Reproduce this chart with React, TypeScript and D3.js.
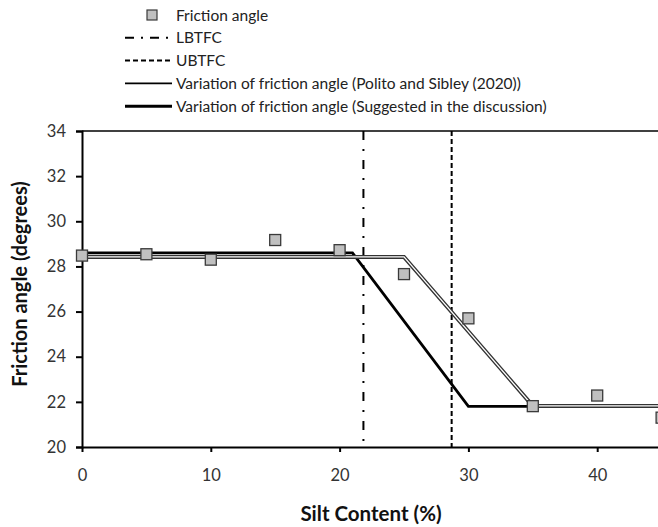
import React, { useEffect, useRef } from "react";
import * as d3 from "d3";

// measured friction angle vs silt content
const siltContent = [0, 5, 10, 15, 20, 25, 30, 35, 40, 45];
const frictionAngle = [28.48, 28.54, 28.3, 29.17, 28.72, 27.66, 25.7, 21.81, 22.28, 21.3];

// trend lines (x, y breakpoints)
const politoX = [0, 25, 35, 50];
const politoY = [28.42, 28.42, 21.82, 21.82];
const suggestedX = [0, 21, 30, 50];
const suggestedY = [28.6, 28.6, 21.8, 21.8];

// threshold fines contents
const lbtfc = 21.85;
const ubtfc = 28.7;

const xTicks = [0, 10, 20, 30, 40];
const yTicks = [20, 22, 24, 26, 28, 30, 32, 34];

const legendLabels = [
  "Friction angle",
  "LBTFC",
  "UBTFC",
  "Variation of friction angle (Polito and Sibley (2020))",
  "Variation of friction angle (Suggested in the discussion)",
];

const FONT = "Lato, 'Open Sans', sans-serif";

const App: React.FC = () => {
  const ref = useRef<SVGSVGElement | null>(null);

  useEffect(() => {
    if (!ref.current) return;
    const svg = d3.select(ref.current);
    svg.selectAll("*").remove();

    const width = 658;
    const height = 527;
    const margin = { top: 131, left: 82, bottom: 80 };
    const plotH = height - margin.top - margin.bottom;

    const x = d3.scaleLinear().domain([0, 50]).range([margin.left, margin.left + 644]);
    const y = d3.scaleLinear().domain([20, 34]).range([margin.top + plotH, margin.top]);

    svg.attr("width", width).attr("height", height);

    // top border of plot area
    svg.append("line")
      .attr("x1", x(0)).attr("x2", width)
      .attr("y1", y(34)).attr("y2", y(34))
      .attr("stroke", "#000").attr("stroke-width", 1.5);

    // Y axis
    const yAxis = svg.append("g")
      .attr("transform", `translate(${x(0)},0)`)
      .call(d3.axisLeft(y).tickValues(yTicks).tickSize(6).tickPadding(10).tickFormat(d3.format("d")));
    yAxis.select(".domain").attr("stroke", "#000").attr("stroke-width", 2);
    yAxis.selectAll(".tick line").attr("stroke", "#000").attr("stroke-width", 2);
    yAxis.selectAll(".tick text")
      .attr("font-family", FONT).attr("font-size", 16.5).attr("fill", "#333");

    // X axis
    const xAxis = svg.append("g")
      .attr("transform", `translate(0,${y(20)})`)
      .call(d3.axisBottom(x).tickValues(xTicks).tickSize(5).tickPadding(17).tickSizeOuter(0));
    xAxis.select(".domain").attr("stroke", "#000").attr("stroke-width", 2);
    xAxis.selectAll(".tick line").attr("stroke", "#000").attr("stroke-width", 2);
    xAxis.selectAll(".tick text")
      .attr("font-family", FONT).attr("font-size", 16.5).attr("fill", "#333");

    // threshold lines
    svg.append("line")
      .attr("x1", x(lbtfc)).attr("x2", x(lbtfc))
      .attr("y1", y(34)).attr("y2", y(20))
      .attr("stroke", "#000").attr("stroke-width", 2)
      .attr("stroke-dasharray", "9,9,2,9");
    svg.append("line")
      .attr("x1", x(ubtfc)).attr("x2", x(ubtfc))
      .attr("y1", y(34)).attr("y2", y(20))
      .attr("stroke", "#000").attr("stroke-width", 2)
      .attr("stroke-dasharray", "5,3");

    const line = d3.line<[number, number]>()
      .x((d) => x(d[0]))
      .y((d) => y(d[1]));

    const politoPts = politoX.map((v, i) => [v, politoY[i]] as [number, number]);
    const suggestedPts = suggestedX.map((v, i) => [v, suggestedY[i]] as [number, number]);

    // suggested line (thick black)
    svg.append("path")
      .datum(suggestedPts)
      .attr("fill", "none").attr("stroke", "#000").attr("stroke-width", 2.8)
      .attr("d", line);

    // Polito and Sibley line (double line)
    svg.append("path")
      .datum(politoPts)
      .attr("fill", "none").attr("stroke", "#333").attr("stroke-width", 4)
      .attr("d", line);
    svg.append("path")
      .datum(politoPts)
      .attr("fill", "none").attr("stroke", "#fff").attr("stroke-width", 1.3)
      .attr("d", line);

    // data points
    svg.selectAll(".pt")
      .data(siltContent)
      .join("rect")
      .attr("class", "pt")
      .attr("x", (d) => x(d) - 5.5)
      .attr("y", (d, i) => y(frictionAngle[i]) - 5.5)
      .attr("width", 11).attr("height", 11)
      .attr("fill", "#c0c0c0").attr("stroke", "#3a3a3a").attr("stroke-width", 1.3);

    // axis titles
    svg.append("text")
      .attr("x", 371).attr("y", 521)
      .attr("text-anchor", "middle")
      .attr("font-family", FONT).attr("font-size", 20.5).attr("font-weight", "bold")
      .attr("fill", "#111")
      .text("Silt Content (%)");
    svg.append("text")
      .attr("transform", `translate(27,284) rotate(-90)`)
      .attr("text-anchor", "middle")
      .attr("font-family", FONT).attr("font-size", 20).attr("font-weight", "bold")
      .attr("fill", "#111")
      .text("Friction angle (degrees)");

    // legend
    const legend = svg.append("g").attr("transform", "translate(125,15)");
    legendLabels.forEach((label, i) => {
      const row = legend.append("g").attr("transform", `translate(0,${i * 22.8})`);
      if (i === 0) {
        row.append("rect")
          .attr("x", 22).attr("y", -5).attr("width", 10).attr("height", 10)
          .attr("fill", "#c0c0c0").attr("stroke", "#3a3a3a").attr("stroke-width", 1.2);
      } else if (i === 1) {
        row.append("line").attr("x1", 0).attr("x2", 47).attr("y1", 0).attr("y2", 0)
          .attr("stroke", "#000").attr("stroke-width", 2).attr("stroke-dasharray", "9,7,2,7");
      } else if (i === 2) {
        row.append("line").attr("x1", 0).attr("x2", 47).attr("y1", 0).attr("y2", 0)
          .attr("stroke", "#000").attr("stroke-width", 2).attr("stroke-dasharray", "5,3");
      } else {
        row.append("line").attr("x1", 0).attr("x2", 47).attr("y1", 0).attr("y2", 0)
          .attr("stroke", "#000").attr("stroke-width", i === 3 ? 1.8 : 3);
      }
      row.append("text")
        .attr("x", 51).attr("y", 5.5)
        .attr("font-family", FONT).attr("font-size", 15.5).attr("fill", "#222")
        .text(label);
    });
  }, []);

  return <svg ref={ref} style={{ position: "absolute", left: 0, top: 0 }}></svg>;
};

export default App;
